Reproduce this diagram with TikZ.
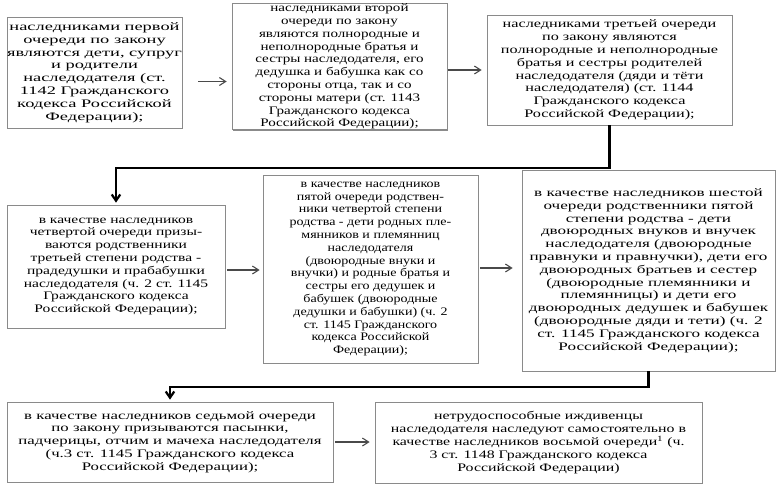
\documentclass[tikz,border=0pt]{standalone}
\usepackage{fontspec}
\setmainfont{Liberation Serif}
\usepackage{tikz}
\usetikzlibrary{arrows.meta,positioning,calc,shadows}
\definecolor{frame}{HTML}{8A8A8A}
\definecolor{shade}{HTML}{6E6E6E}
\definecolor{arrgray}{HTML}{4A4A4A}
\tikzset{
  lawbox/.style={draw=frame,fill=white,line width=0.7pt,
                 align=center,inner sep=0pt,
                 font=\fontsize{11.5}{12.8}\selectfont\addfontfeature{FakeStretch=#1},
                 drop shadow={shadow xshift=1.3pt,shadow yshift=-1.3pt,fill=shade,opacity=0.8}},
  lawbox/.default=1.35,
  nextarr/.style={-{Straight Barb[length=2.2mm,width=2.8mm]},line width=1.1pt,color=arrgray},
  jumparr/.style={-{Straight Barb[length=2.2mm,width=3mm]},line width=2.2pt,color=black}
}

\begin{document}
\begin{tikzpicture}[x=1pt,y=-1pt]
  \useasboundingbox[fill=white] (0,0) rectangle (782,499);
  % first row
  \node[lawbox=1.6,minimum width=175pt,minimum height=111pt] (b1) at (94.5,72.5)
    {наследниками первой\\очереди по закону\\являются дети, супруг\\и родители\\наследодателя (ст.\\1142 Гражданского\\кодекса Российской\\Федерации);};
  \node[lawbox=1.31,minimum width=215pt,minimum height=123pt] (b2) at (339.5,66.5)
    {наследниками второй\\очереди по закону\\являются полнородные и\\неполнородные братья и\\сестры наследодателя, его\\дедушка и бабушка как со\\стороны отца, так и со\\стороны матери (ст. 1143\\Гражданского кодекса\\Российской Федерации);};
  \node[lawbox=1.41,minimum width=245pt,minimum height=110pt] (b3) at (609.5,70)
    {наследниками третьей очереди\\по закону являются\\полнородные и неполнородные\\братья и сестры родителей\\наследодателя (дяди и тёти\\наследодателя) (ст. 1144\\Гражданского кодекса\\Российской Федерации);};
  % second row
  \node[lawbox=1.35,minimum width=218pt,minimum height=123pt] (b4) at (116,266.5)
    {в качестве наследников\\четвертой очереди призы-\\ваются родственники\\третьей степени родства -\\прадедушки и прабабушки\\наследодателя (ч. 2 ст. 1145\\Гражданского кодекса\\Российской Федерации);};
  \node[lawbox=1.22,minimum width=215pt,minimum height=188pt] (b5) at (370.5,269)
    {в качестве наследников\\пятой очереди родствен-\\ники четвертой степени\\родства - дети родных пле-\\мянников и племянниц\\наследодателя\\(двоюродные внуки и\\внучки) и родные братья и\\сестры его дедушек и\\бабушек (двоюродные\\дедушки и бабушки) (ч. 2\\ст. 1145 Гражданского\\кодекса Российской\\Федерации);};
  \node[lawbox=1.49,minimum width=253pt,minimum height=201pt] (b6) at (648.5,270.5)
    {в качестве наследников шестой\\очереди родственники пятой\\степени родства - дети\\двоюродных внуков и внучек\\наследодателя (двоюродные\\правнуки и правнучки), дети его\\двоюродных братьев и сестер\\(двоюродные племянники и\\племянницы) и дети его\\двоюродных дедушек и бабушек\\(двоюродные дяди и тети) (ч. 2\\ст. 1145 Гражданского кодекса\\Российской Федерации);};
  % third row
  \node[lawbox=1.46,minimum width=326pt,minimum height=80pt] (b7) at (170,442)
    {в качестве наследников седьмой очереди\\по закону призываются пасынки,\\падчерицы, отчим и мачеха наследодателя\\(ч.3 ст. 1145 Гражданского кодекса\\Российской Федерации);};
  \node[lawbox=1.38,minimum width=327pt,minimum height=81pt] (b8) at (538.5,442.5)
    {нетрудоспособные иждивенцы\\наследодателя наследуют самостоятельно в\\качестве наследников восьмой очереди\textsuperscript{1} (ч.\\3 ст. 1148 Гражданского кодекса\\Российской Федерации)};
  % arrows along the rows
  \draw[nextarr,shorten <=16pt,shorten >=5pt] ([yshift=-9pt]b1.east) -- ([yshift=-9pt]b1.east -| b2.west);
  \draw[nextarr,shorten <=1pt,shorten >=5pt] ([yshift=-3.5pt]b2.east) -- ([yshift=-3.5pt]b2.east -| b3.west);
  \draw[nextarr,shorten <=2pt,shorten >=3pt] ([yshift=-3.5pt]b4.east) -- ([yshift=-3.5pt]b4.east -| b5.west);
  \draw[nextarr,shorten <=2pt,shorten >=9pt] ([yshift=1pt]b5.east) -- ([yshift=1pt]b5.east -| b6.west);
  \draw[nextarr,shorten <=2pt,shorten >=5pt] (b7.east) -- (b7.east -| b8.west);
  % jumps to the next row
  \draw[jumparr,shorten >=2pt] (b3.south) -- ++(0,43) -| (b4.north);
  \draw[jumparr,shorten >=2pt] (b6.south) -- ++(0,16) -| (b7.north);
\end{tikzpicture}
\end{document}
